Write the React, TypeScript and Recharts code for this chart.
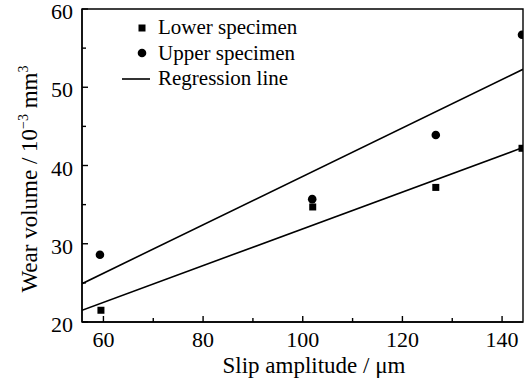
import React from 'react';
import { ScatterChart, Scatter, XAxis, YAxis, ReferenceArea } from 'recharts';

const FONT = '"Liberation Serif", "Times New Roman", serif';

// measured points
const lowerSpecimen = [
  { x: 59.5, y: 21.5 },
  { x: 102, y: 34.7 },
  { x: 126.7, y: 37.2 },
  { x: 144, y: 42.2 },
];
const upperSpecimen = [
  { x: 59.3, y: 28.6 },
  { x: 101.9, y: 35.7 },
  { x: 126.7, y: 43.9 },
  { x: 144, y: 56.7 },
];

// regression line end points
const lowerFit = [
  { x: 55.7, y: 21.5 },
  { x: 144.2, y: 42.3 },
];
const upperFit = [
  { x: 55.7, y: 24.9 },
  { x: 144.2, y: 52.3 },
];

const xTicks = [60, 70, 80, 90, 100, 110, 120, 130, 140];
const yTicks = [20, 25, 30, 35, 40, 45, 50, 55, 60];
const legendItems = [
  { label: 'Lower specimen', kind: 'square' },
  { label: 'Upper specimen', kind: 'circle' },
  { label: 'Regression line', kind: 'line' },
];

const XTick = (props: any) => {
  const { x, y, payload } = props;
  const major = payload.value % 20 === 0;
  return (
    <g>
      <line x1={x} y1={y} x2={x} y2={y - (major ? 6 : 4)} stroke="#000" strokeWidth={1.4} />
      {major && (
        <text x={x} y={y + 25} textAnchor="middle" fontSize={22} fontFamily={FONT} fill="#000">
          {payload.value}
        </text>
      )}
    </g>
  );
};

const YTick = (props: any) => {
  const { x, y, payload } = props;
  const major = payload.value % 10 === 0;
  return (
    <g>
      <line x1={x} y1={y} x2={x + (major ? 6 : 4)} y2={y} stroke="#000" strokeWidth={1.4} />
      {major && (
        <text x={x - 9} y={y + 10} textAnchor="end" fontSize={22} fontFamily={FONT} fill="#000">
          {payload.value}
        </text>
      )}
    </g>
  );
};

const Square = (props: any) => <rect x={props.cx - 3.5} y={props.cy - 3.5} width={7} height={7} fill="#000" />;
const Dot = (props: any) => <circle cx={props.cx} cy={props.cy} r={4.3} fill="#000" />;
const NoShape = () => <g />;

const LegendBox = () => (
  <div style={{ position: 'absolute', top: 15, left: 118, fontFamily: FONT, fontSize: 21, color: '#000' }}>
    {legendItems.map((it) => (
      <div key={it.label} style={{ display: 'flex', alignItems: 'center', height: 25.5, whiteSpace: 'nowrap' }}>
        <svg width={36} height={20}>
          {it.kind === 'square' && <rect x={20.5} y={6.5} width={7} height={7} fill="#000" />}
          {it.kind === 'circle' && <circle cx={24} cy={10} r={4.3} fill="#000" />}
          {it.kind === 'line' && <line x1={4} y1={10} x2={32} y2={10} stroke="#000" strokeWidth={1.6} />}
        </svg>
        <span style={{ marginLeft: 4, lineHeight: '21px' }}>{it.label}</span>
      </div>
    ))}
  </div>
);

export default function App() {
  return (
    <div style={{ position: 'absolute', left: 0, top: 0, width: 526, height: 378, background: '#fff' }}>
      <ScatterChart width={526} height={378} margin={{ top: 9, right: 3, bottom: 0, left: 0 }}>
        <XAxis
          type="number"
          dataKey="x"
          domain={[55.7, 144.2]}
          ticks={xTicks}
          interval={0}
          allowDataOverflow
          height={56}
          tickSize={0}
          tickMargin={0}
          tickLine={false}
          tick={<XTick />}
          axisLine={{ stroke: '#000', strokeWidth: 1.4 }}
          label={{
            content: () => (
              <text x={314} y={373} textAnchor="middle" fontSize={23} fontFamily={FONT} fill="#000">
                Slip amplitude / μm
              </text>
            ),
          }}
        />
        <YAxis
          type="number"
          dataKey="y"
          domain={[20, 60]}
          ticks={yTicks}
          interval={0}
          allowDataOverflow
          width={82}
          tickSize={0}
          tickMargin={0}
          tickLine={false}
          tick={<YTick />}
          axisLine={{ stroke: '#000', strokeWidth: 1.4 }}
          label={{
            content: () => (
              <text
                x={37}
                y={179}
                transform="rotate(-90, 37, 179)"
                textAnchor="middle"
                fontSize={23}
                fontFamily={FONT}
                fill="#000"
              >
                Wear volume / 10
                <tspan dy={-9} fontSize={14}>−3</tspan>
                <tspan dy={9}> mm</tspan>
                <tspan dy={-9} fontSize={14}>3</tspan>
              </text>
            ),
          }}
        />
        <ReferenceArea x1={55.7} x2={144.2} y1={20} y2={60} fill="none" stroke="#000" strokeWidth={1.4} />
        <Scatter data={lowerFit} shape={NoShape} line={{ stroke: '#000', strokeWidth: 1.6 }} isAnimationActive={false} legendType="none" />
        <Scatter data={upperFit} shape={NoShape} line={{ stroke: '#000', strokeWidth: 1.6 }} isAnimationActive={false} legendType="none" />
        <Scatter name="Lower specimen" data={lowerSpecimen} shape={Square} isAnimationActive={false} />
        <Scatter name="Upper specimen" data={upperSpecimen} shape={Dot} isAnimationActive={false} />
      </ScatterChart>
      <LegendBox />
    </div>
  );
}
